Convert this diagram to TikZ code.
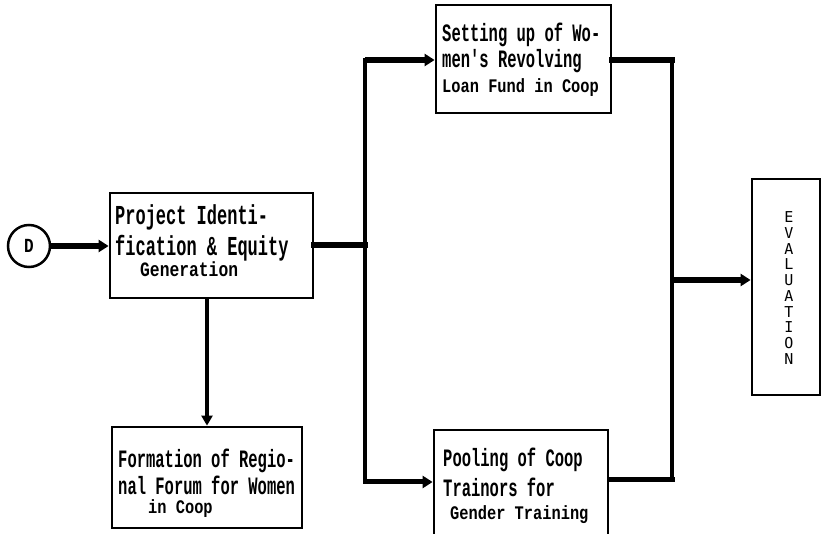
\documentclass[tikz,border=0pt]{standalone}
\usepackage{fontspec}
\usetikzlibrary{arrows.meta}
\newfontfamily\dotbig[FakeStretch=0.62]{Liberation Mono}
\newfontfamily\dotsmall[FakeStretch=0.8]{Liberation Mono}
\newfontfamily\dotev{DejaVu Sans Mono}
\newcommand\fbigA{\dotbig\bfseries\fontsize{27.4}{30}\selectfont}
\newcommand\fbigB{\dotbig\bfseries\fontsize{25}{30}\selectfont}
\newcommand\fsmallA{\dotsmall\bfseries\fontsize{20.4}{24}\selectfont}
\newcommand\fsmallB{\dotsmall\bfseries\fontsize{19.2}{24}\selectfont}
\newcommand\fev{\dotev\fontsize{15}{15.7}\selectfont}
\tikzset{
  box/.style={draw, rectangle, line width=2.8pt, inner sep=0pt},
  txt/.style={anchor=base west, inner sep=0pt, text height=15pt, text depth=5pt},
  stxt/.style={anchor=base west, inner sep=0pt, text height=11pt, text depth=4pt},
  heavy/.style={line width=6pt, line cap=rect},
  heavyarrow/.style={line width=6pt, -{Triangle[length=10pt,width=12pt]}},
  midarrow/.style={line width=5pt, -{Triangle[length=10pt,width=12pt]}},
  vline/.style={line width=4.5pt, line cap=rect},
}
\begin{document}
\begin{tikzpicture}[x=1pt,y=-1pt]
\useasboundingbox (0,0) rectangle (823,534);
\clip (0,0) rectangle (823,534);
\fill[white] (0,0) rectangle (823,534);

% boxes
\node[box, minimum width=203pt, minimum height=105pt] (box1) at (211.5,245.5) {};
\node[box, minimum width=175pt, minimum height=108pt] (box2) at (523.5,59) {};
\node[box, minimum width=174pt, minimum height=115pt] (box3) at (521,487.5) {};
\node[box, minimum width=190pt, minimum height=101pt] (box4) at (207,477.5) {};
\node[box, minimum width=68pt, minimum height=216pt] (eval) at (786,287) {};
\node[draw, circle, line width=2.5pt, minimum size=42pt, inner sep=0pt,
      font=\dotsmall\bfseries\fontsize{20}{22}\selectfont] (D) at (29,246) {D};

% texts
\node[txt, font=\fbigA] (t1a) at (115,225) {Project Identi-};
\node[txt, font=\fbigA] (t1b) at (115,255.5) {fication \& Equity};
\node[stxt, font=\fsmallA] (t1c) at (140,277) {Generation};

\node[txt, font=\fbigB] (t2a) at (442,42) {Setting up of Wo-};
\node[txt, font=\fbigB] (t2b) at (442,68) {men's Revolving};
\node[stxt, font=\fsmallB] (t2c) at (442,93) {Loan Fund in Coop};

\node[txt, font=\fbigB] (t3a) at (443,467) {Pooling of Coop};
\node[txt, font=\fbigB] (t3b) at (443,497) {Trainors for};
\node[stxt, font=\fsmallB] (t3c) at (450,520) {Gender Training};

\node[txt, font=\fbigB] (t4a) at (118,468) {Formation of Regio-};
\node[txt, font=\fbigB] (t4b) at (118,495) {nal Forum for Women};
\node[stxt, font=\fsmallB] (t4c) at (148,514) {in Coop};

\node[align=center, inner sep=0pt, font=\fev] (evt) at (789,288)
  {E\\V\\A\\L\\U\\A\\T\\I\\O\\N};

% junction coordinates
\coordinate (jl) at (365,245);
\coordinate (jlt) at (365,60);
\coordinate (jlb) at (365,482);
\coordinate (jrt) at (672,60);
\coordinate (jrb) at (672,480);
\coordinate (jrm) at (672,280);

% connectors
\draw[heavyarrow] (D.east) -- (D.east -| box1.west);
\draw[heavy] (box1.east |- jl) -- (jl);
\draw[vline] (jlt) -- (jlb);
\draw[heavyarrow] (jlt) -- (jlt -| box2.west);
\draw[midarrow] (jlb) -- (jlb -| box3.west);
\draw[heavy] (box2.east |- jrt) -- (jrt);
\draw[vline, line width=4pt] (jrt) -- (jrb);
\draw[heavy, line width=5pt] (box3.east |- jrb) -- (jrb);
\draw[heavyarrow] (jrm) -- (jrm -| eval.west);
\draw[line width=4pt, -{Triangle[length=10pt,width=11pt]}] (box4.north |- box1.south) -- (box4.north);
\end{tikzpicture}
\end{document}
